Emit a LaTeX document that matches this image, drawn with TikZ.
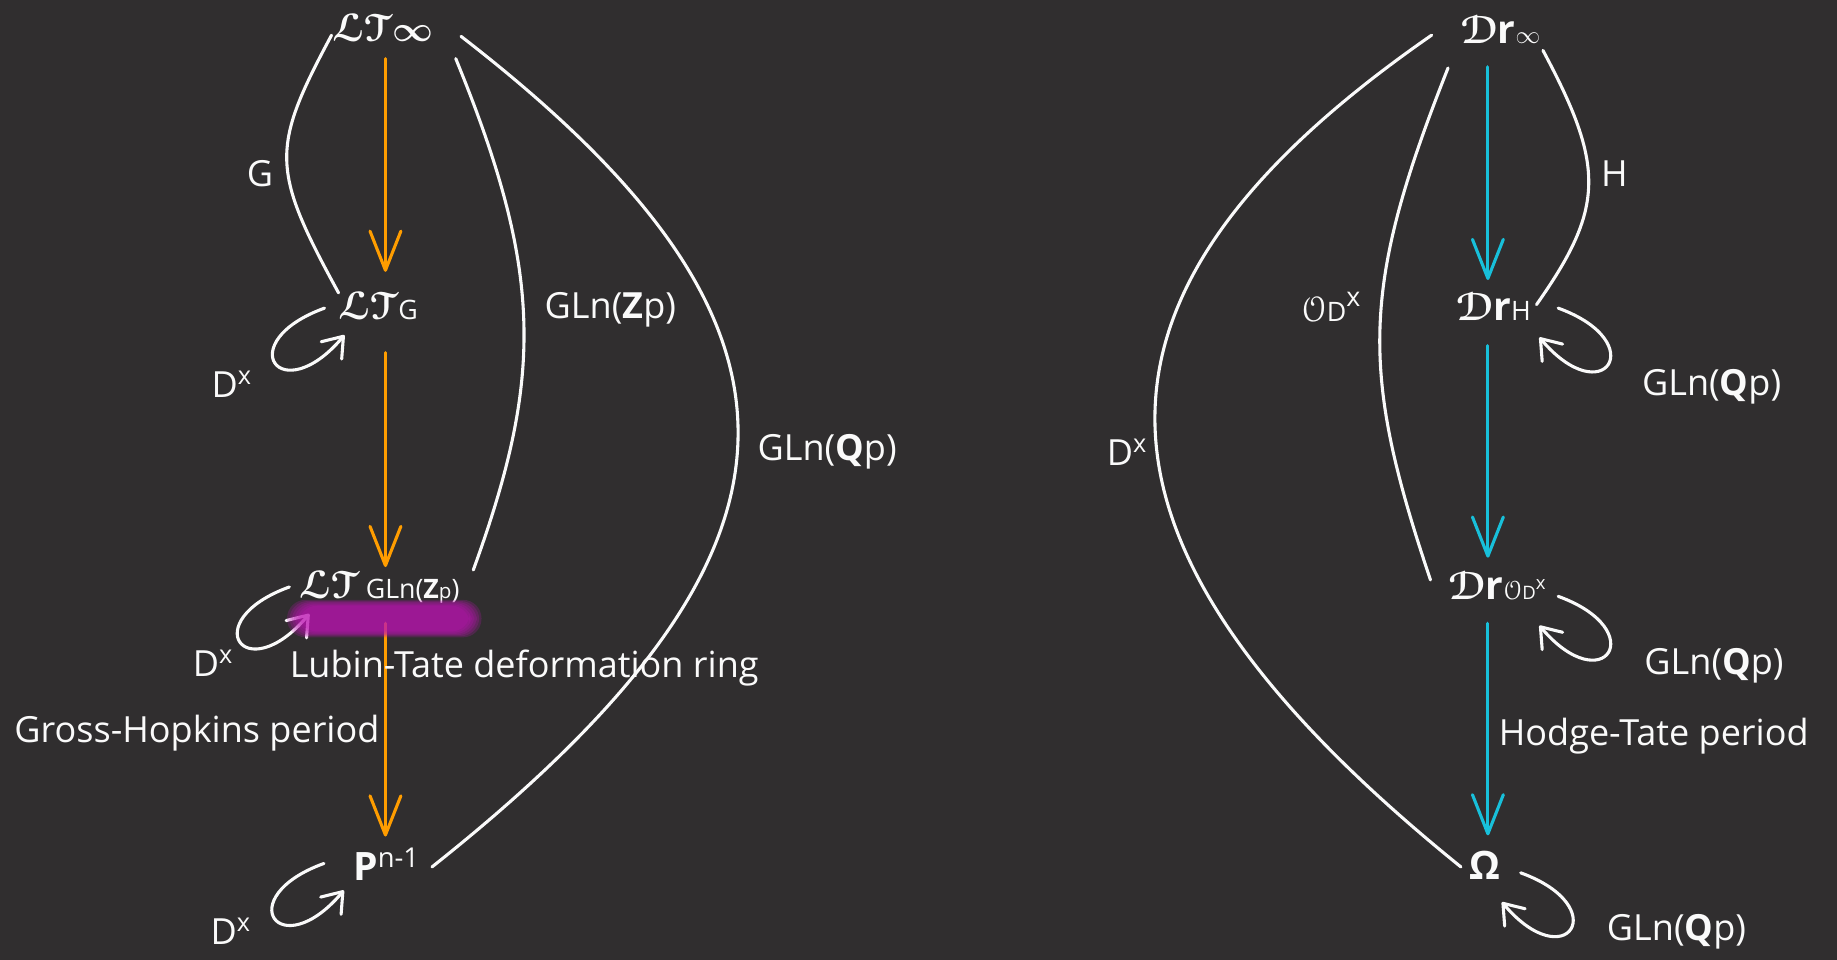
\documentclass[tikz,border=0pt]{standalone}
\usepackage{amsmath,amssymb}
\usepackage{fontspec}
\setmainfont{Open Sans}
\usepackage[mathscr]{eucal}
\usetikzlibrary{arrows.meta,calc}
\definecolor{Bgdark}{RGB}{48,46,47}
\definecolor{Lorange}{RGB}{255,157,0}
\definecolor{Rcyan}{RGB}{24,192,218}
\definecolor{Hmag}{RGB}{190,20,180}
\definecolor{Chalk}{RGB}{250,250,250}
\newcommand{\lowtxt}[1]{{\fontsize{13}{15}\selectfont #1}}
\newcommand{\scr}[1]{{\boldmath$\mathscr{#1}$}}
\tikzset{
    sobj/.style={text=Chalk, inner sep=0pt, font=\fontsize{19}{22}\selectfont},
    slab/.style={text=Chalk, inner sep=0pt, font=\fontsize{17.5}{20}\selectfont},
    oarr/.style={-{Straight Barb[length=19pt, width=15pt, round]}, line width=1.5pt, line cap=round, Lorange},
    carr/.style={-{Straight Barb[length=19pt, width=15pt, round]}, line width=1.5pt, line cap=round, Rcyan},
    wcurve/.style={line width=1.5pt, line cap=round, Chalk},
    wloop/.style={wcurve, -{Straight Barb[length=9pt, width=13pt, round]}},
}
\begin{document}
\begin{tikzpicture}[x=0.02cm, y=-0.02cm]

    % ── background ──────────────────────────────────────
    \fill [Bgdark] (0,0) rectangle (1568,819);
    \useasboundingbox (0,0) rectangle (1568,819);

    % ── Lubin-Tate tower (left) ─────────────────────────
    \node [sobj] (lti)  at (327,24)  {\scr{L}\scr{T}{\boldmath$\infty$}};
    \node [sobj] (ltg)  at (323,261) {\scr{L}\scr{T}\lowtxt{G}};
    \node [sobj] (ltz)  at (324,501) {\scr{L}\scr{T}\,\lowtxt{GLn(\textbf{Z}{\fontsize{10}{12}\selectfont p})}};
    \node [sobj] (proj) at (330,738) {\textbf{P}\textsuperscript{n-1}};

    % ── Drinfeld tower (right) ──────────────────────────
    \node [sobj] (dri)   at (1281,25)  {\scr{D}\textbf{r}\lowtxt{$\infty$}};
    \node [sobj] (drh)   at (1275,262) {\scr{D}\textbf{r}\lowtxt{H}};
    \node [sobj] (dro)   at (1278,500) {\scr{D}\textbf{r}\lowtxt{$\mathscr{O}$}{\fontsize{9}{10}\selectfont D\raisebox{5pt}{x}}};
    \node [sobj] (omega) at (1267,739) {\textbf{Ω}};

    % ── vertical arrows ─────────────────────────────────
    \draw [oarr] ([shift={(2,26)}]lti.center)  -- ([shift={(6,-29)}]ltg.center);
    \draw [oarr] ([shift={(6,40)}]ltg.center)  -- ([shift={(5,-17)}]ltz.center);
    \draw [oarr] ([shift={(5,31)}]ltz.center)  -- ([shift={(-1,-24)}]proj.center);
    \draw [carr] ([shift={(-11,32)}]dri.center) -- ([shift={(-5,-23)}]drh.center);
    \draw [carr] ([shift={(-5,33)}]drh.center)  -- ([shift={(-8,-24)}]dro.center);
    \draw [carr] ([shift={(-8,32)}]dro.center)  -- ([shift={(3,-26)}]omega.center);

    % ── group arcs ──────────────────────────────────────
    \draw [wcurve] ([shift={(-44,6)}]lti.center) .. controls +(-52,97) and +(-58,-106) .. ([shift={(-34,-11)}]ltg.center);
    \draw [wcurve] ([shift={(62,26)}]lti.center) .. controls +(75,183) and +(60,-165) .. ([shift={(80,-14.5)}]ltz.center);
    \draw [wcurve] ([shift={(66.5,7)}]lti.center) .. controls +(319.5,247) and +(344,-273) .. ([shift={(38.7,2)}]proj.center);
    \draw [wcurve] ([shift={(36,18)}]dri.center) .. controls +(53,99) and +(58.5,-83) .. ([shift={(36.5,-2)}]drh.center);
    \draw [wcurve] ([shift={(-45,33)}]dri.center) .. controls +(-75,189) and +(-60,-178) .. ([shift={(-57,-5)}]dro.center);
    \draw [wcurve] ([shift={(-59,5)}]dri.center) .. controls +(-319,221) and +(-344,-278) .. ([shift={(-20,1)}]omega.center);

    % ── action loops ────────────────────────────────────
    \foreach \n/\dx/\dy in {ltg/-46/2, ltz/-77/0, proj/-53.5/-1}
        \draw [wloop] ([shift={(\dx,\dy)}]\n.center) .. controls +(-80,29) and +(-55,65) .. +(17,23);
    \foreach \n/\dx/\dy in {drh/55/1, dro/52/9, omega/31/6}
        \draw [wloop] ([shift={(\dx,\dy)}]\n.center) .. controls +(80,29) and +(55,65) .. +(-16,25);

    % ── labels ──────────────────────────────────────────
    \node [slab] (glab) at (222,148) {G};
    \node [slab] (zlab) at (521,264) {GLn(\textbf{Z}p)};
    \node [slab] (qlab) at (706,386) {GLn(\textbf{Q}p)};
    \node [slab] (dxa)  at (198,328) {D\textsuperscript{x}};
    \node [slab] (dxb)  at (182,566) {D\textsuperscript{x}};
    \node [slab] (dxc)  at (197,795) {D\textsuperscript{x}};
    \node [slab, anchor=west] (lubin) at (247,570) {Lubin-Tate deformation ring};
    \node [slab, anchor=west] (gross) at (12,626)  {Gross-Hopkins period};

    \node [slab] (hlab) at (1378,148) {H};
    \node [slab] (olab) at (1136,262) {$\mathscr{O}$\lowtxt{D}\raisebox{7pt}{\lowtxt{x}}};
    \node [slab] (dxr)  at (962,386)  {D\textsuperscript{x}};
    \node [slab] (qra)  at (1461,330) {GLn(\textbf{Q}p)};
    \node [slab] (qrb)  at (1463,568) {GLn(\textbf{Q}p)};
    \node [slab] (qrc)  at (1431,795) {GLn(\textbf{Q}p)};
    \node [slab, anchor=west] (hodge) at (1279,628) {Hodge-Tate period};

    % ── highlight (soft marker stroke) ──────────────────
    \foreach \s in {0,2,...,10}
        \fill [Hmag, opacity=0.22, rounded corners=9] (245+\s,512+\s/2) rectangle (411-\s,544-\s/2);

\end{tikzpicture}
\end{document}
